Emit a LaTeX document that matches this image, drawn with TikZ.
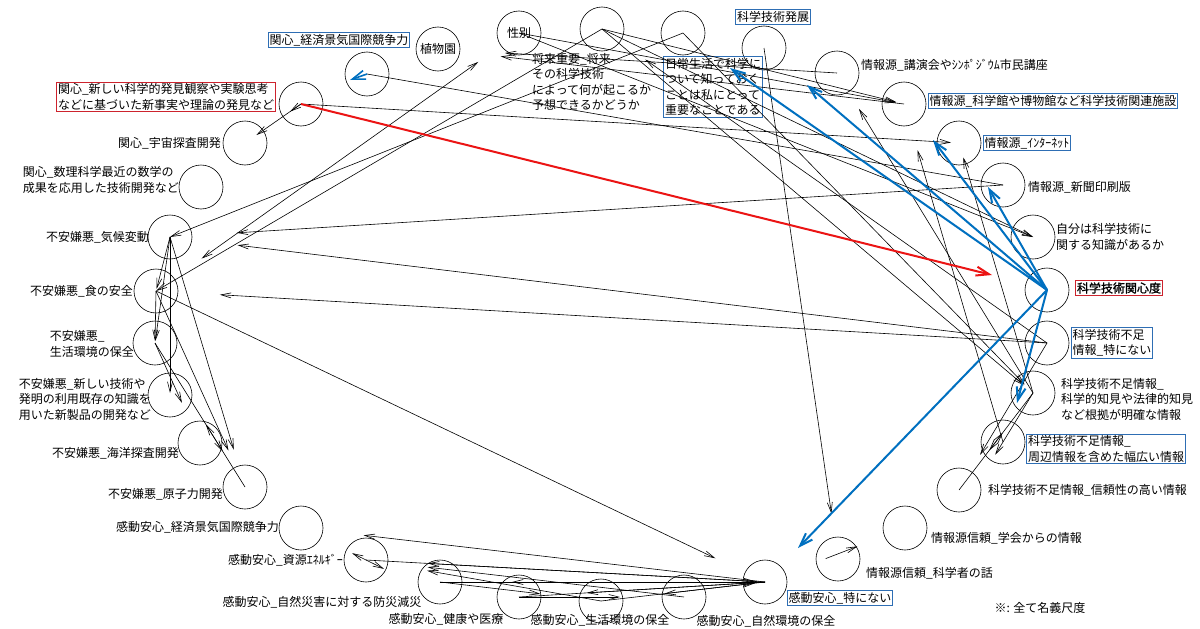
\documentclass[tikz,border=0pt]{standalone}
\usepackage{fontspec}
\newfontfamily\jp{Noto Sans CJK JP}
\newfontfamily\jpb[FakeBold=1.5]{Noto Sans CJK JP}
\usetikzlibrary{arrows.meta}
\definecolor{arblue}{RGB}{0,112,192}
\definecolor{bxblue}{RGB}{46,110,180}
\definecolor{arred}{RGB}{235,20,20}
\definecolor{bxred}{RGB}{205,35,45}
\begin{document}
\begin{tikzpicture}[x=1pt,y=-1pt,
  nd/.style={circle,draw,line width=0.6pt,minimum size=44pt,inner sep=0pt},
  lb/.style={font=\jp\fontsize{12}{15.5}\selectfont,inner sep=1pt,align=left},
  bb/.style={lb,draw=bxblue,line width=1.1pt,inner sep=1.5pt},
  rb/.style={lb,draw=bxred,line width=1.1pt,inner sep=1.5pt},
  ar/.style={-{Straight Barb[length=10pt,width=5pt]},line width=0.6pt},
  ar2/.style={{Straight Barb[length=10pt,width=5pt]}-{Straight Barb[length=10pt,width=5pt]},line width=0.6pt},
  bar/.style={-{Straight Barb[length=13pt,width=9pt]},line width=2pt,arblue},
  rar/.style={-{Straight Barb[length=13pt,width=9pt]},line width=2pt,arred}
]
\useasboundingbox (0,0) rectangle (1200,629);
\fill[white] (0,0) rectangle (1200,629);

% ---- circles ----
\node[nd] (k1) at (367,74) {};
\node[nd] (k2) at (301,104) {};
\node[nd] (k3) at (245,143) {};
\node[nd] (k4) at (201,187) {};
\node[nd] (f1) at (170,237) {};
\node[nd] (f2) at (156,291) {};
\node[nd] (f3) at (155,343) {};
\node[nd] (f4) at (170,395) {};
\node[nd] (f5) at (200,443) {};
\node[nd] (f6) at (245,487) {};
\node[nd] (a1) at (301,528) {};
\node[nd] (a2) at (366,560) {};
\node[nd] (a3) at (440,582) {};
\node[nd] (a4) at (519,597) {};
\node[nd] (a5) at (601,601) {};
\node[nd] (a6) at (684,597) {};
\node[nd] (a7) at (765,582) {};
\node[nd] (s1) at (838,559) {};
\node[nd] (s2) at (905,528) {};
\node[nd] (n1) at (959,490) {};
\node[nd] (n2) at (1003,442) {};
\node[nd] (n3) at (1033,393) {};
\node[nd] (n4) at (1047,343) {};
\node[nd] (c) at (1047,290) {};
\node[nd] (j) at (1033,237) {};
\node[nd] (i1) at (1003,185) {};
\node[nd] (i2) at (959,143) {};
\node[nd] (i3) at (904,104) {};
\node[nd] (i4) at (837,73) {};
\node[nd] (t1) at (764,48) {};
\node[nd] (t2) at (683,33) {};
\node[nd] (t3) at (602,29) {};
\node[nd,font=\jp\fontsize{12}{14}\selectfont] (t4) at (519,33) {性別};
\node[nd,font=\jp\fontsize{12}{14}\selectfont] (t5) at (438,49) {植物園};

% ---- labels ----
\node[bb] (lk1) at (339,40) {関心\_経済景気国際競争力};
\node[rb] (lk2) at (166,97) {関心\_新しい科学的発見観察や実験思考\\などに基づいた新事実や理論の発見など};
\node[lb,anchor=east] (lk3) at (222,143) {関心\_宇宙探査開発};
\node[lb,anchor=east] (lk4) at (180,180) {関心\_数理科学最近の数学の\\成果を応用した技術開発など};
\node[lb,anchor=east] (lf1) at (150,237) {不安嫌悪\_気候変動};
\node[lb,anchor=east] (lf2) at (134,291) {不安嫌悪\_食の安全};
\node[lb,anchor=east] (lf3) at (135,344) {不安嫌悪\_\\生活環境の保全};
\node[lb,anchor=east] (lf4) at (152,399) {不安嫌悪\_新しい技術や\\発明の利用既存の知識を\\用いた新製品の開発など};
\node[lb,anchor=east] (lf5) at (180,453) {不安嫌悪\_海洋探査開発};
\node[lb,anchor=east] (lf6) at (224,494) {不安嫌悪\_原子力開発};
\node[lb,anchor=east] (la1) at (280,527) {感動安心\_経済景気国際競争力};
\node[lb,anchor=east] (la2) at (344,560) {感動安心\_資源ｴﾈﾙｷﾞｰ};
\node[lb] (la3) at (322,602) {感動安心\_自然災害に対する防災減災};
\node[lb] (la4) at (446,619) {感動安心\_健康や医療};
\node[lb] (la5) at (600,620) {感動安心\_生活環境の保全};
\node[lb] (la6) at (766,621) {感動安心\_自然環境の保全};
\node[bb] (la7) at (840,598) {感動安心\_特にない};
\node[lb,anchor=west] (ls1) at (865,573) {情報源信頼\_科学者の話};
\node[lb,anchor=west] (ls2) at (930,538) {情報源信頼\_学会からの情報};
\node[lb,anchor=west] (ln1) at (987,490) {科学技術不足情報\_信頼性の高い情報};
\node[bb] (ln2) at (1106,449) {科学技術不足情報\_\\周辺情報を含めた幅広い情報};
\node[lb,anchor=west] (ln3) at (1060,399) {科学技術不足情報\_\\科学的知見や法律的知見\\など根拠が明確な情報};
\node[bb] (ln4) at (1112,343) {科学技術不足\\情報\_特にない};
\node[rb,font=\jpb\fontsize{12}{15.5}\selectfont] (lc) at (1119,288) {科学技術関心度};
\node[lb,anchor=west] (lj) at (1055,237) {自分は科学技術に\\関する知識があるか};
\node[lb,anchor=west] (li1) at (1027,187) {情報源\_新聞印刷版};
\node[bb] (li2) at (1027,143) {情報源\_ｲﾝﾀｰﾈｯﾄ};
\node[bb] (li3) at (1053,101) {情報源\_科学館や博物館など科学技術関連施設};
\node[lb,anchor=west] (li4) at (860,65) {情報源\_講演会やｼﾝﾎﾟｼﾞｳﾑ市民講座};
\node[bb] (lt1) at (773,17) {科学技術発展};
\node[bb] (lt2) at (713,87) {日常生活で科学に\\ついて知っておく\\ことは私にとって\\重要なことである};
\node[lb,anchor=north west] (lt3) at (531,52) {将来重要\_将来\\その科学技術\\によって何が起こるか\\予想できるかどうか};
\node[lb] (note) at (1040,608) {※: 全て名義尺度};

% ---- black connectors ----
\draw[ar] (t2.center) -- (f1.center);
\draw[ar] (t3.center) -- (f2.center);
\draw[ar2,shorten <=56pt,shorten >=50pt] (f2.center) -- (t4.center);
\draw[ar] (t3.center) -- (j.center);
\draw[ar] (t4.center) -- (j.center);
\draw[ar,shorten >=8pt] (t3.center) -- (i3.center);
\draw[ar,shorten >=8pt] (t4.center) -- (i3.center);
\draw[ar,shorten >=63pt] (i3.center) -- (t5.center);
\draw[ar,shorten >=67pt] (i4.center) -- (t5.center);
\draw[ar,shorten >=8pt] (k2.center) -- (i2.center);
\draw[line width=0.6pt] (i1.center) -- (k1.center);
\draw[ar,shorten >=53pt] (n4.center) -- (t3.center);
\draw[ar,shorten >=42pt] (n3.center) -- (i4.center);
\draw[ar,shorten >=48pt] (n2.center) -- (i3.center);
\draw[ar,shorten >=15pt] (n3.center) -- (i2.center);
\draw[ar,shorten >=12pt] (t2.center) -- (n3.center);
\draw[ar,shorten >=12pt] (t3.center) -- (n3.center);
\draw[ar,shorten >=46pt] (t1.center) -- (s1.center);
\draw[ar,shorten >=14pt] (k2.center) -- (k3.center);
\draw[ar,shorten >=55pt] (k2.center) -- (k3.center);
\draw[ar,shorten >=67pt] (i1.center) -- (f1.center);
\draw[ar,shorten >=68pt] (n4.center) -- (f1.center);
\draw[ar,shorten >=64pt] (n4.center) -- (f2.center);
\draw[ar,shorten >=55pt] (f2.center) -- (a7.center);
% left cluster
\draw[ar,shorten >=2pt] (f1.center) -- (f2.center);
\draw[ar,shorten >=2pt] (f2.center) -- (f3.center);
\draw[ar,shorten >=2pt] (f1.center) -- (f3.center);
\draw[ar,shorten >=2pt] (f1.center) -- (f4.center);
\draw[ar,shorten >=44pt] (f3.center) -- (f5.center);
\draw[ar,shorten >=39pt] (f1.center) -- (f6.center);
\draw[ar,shorten >=40pt] (f2.center) -- (f6.center);
\draw[ar,shorten >=42pt] (f3.center) -- (f6.center);
\draw[ar,shorten >=96pt] (f6.center) -- (f3.center);
% bottom cluster
\draw[ar,shorten >=63pt] (a7.center) -- (a1.center);
\draw[ar,shorten >=62pt] (a7.center) -- (a2.center);
\draw[ar,shorten >=62pt] (a5.center) -- (a2.center);
\draw[ar,shorten >=62pt] (a6.center) -- (a2.center);
\draw[ar,shorten >=61pt] (a3.center) -- (a5.center);
\draw[ar,shorten >=72pt] (a7.center) -- (a3.center);
\draw[ar,shorten >=68pt] (a7.center) -- (a4.center);
\draw[ar,shorten >=64pt] (a4.center) -- (a6.center);
\draw[ar,shorten >=64pt] (a7.center) -- (a5.center);
\draw[ar,shorten >=10pt] (a2.center) -- (a7.center);
\draw[ar,shorten >=10pt] (a3.center) -- (a7.center);
\draw[ar,shorten >=10pt] (a4.center) -- (a7.center);
\draw[ar,shorten >=10pt] (a5.center) -- (a7.center);
\draw[ar2,shorten <=57pt,shorten >=-20pt] (a1.center) -- (a2.center);
\draw[ar,shorten <=65pt,shorten >=51pt] (a7.center) -- (s2.center);
% right cluster
\draw[ar,shorten >=-15pt] (n3.center) -- (n2.center);
\draw[ar,shorten >=50pt] (n3.center) -- (n1.center);
\draw[ar,shorten >=41pt] (n4.center) -- (n1.center);
\draw[ar,shorten >=50pt] (n1.center) -- (n3.center);

% ---- coloured connectors ----
\coordinate (eR) at (992,275);
\coordinate (eB1) at (730,68);
\coordinate (eB2) at (807,85);
\coordinate (eB3) at (933,140);
\coordinate (eB4) at (988,187);
\coordinate (eB5) at (1017,403);
\coordinate (eB6) at (798,548);
\coordinate (eB7) at (350,80);
\draw[rar] (k2.center) -- (eR);
\draw[bar] (c.center) -- (eB1);
\draw[bar] (c.center) -- (eB2);
\draw[bar] (c.center) -- (eB3);
\draw[bar] (c.center) -- (eB4);
\draw[bar] (c.center) -- (eB5);
\draw[bar] (c.center) -- (eB6);
\draw[bar,line width=1.6pt] (k1.center) -- (eB7);
\end{tikzpicture}
\end{document}
